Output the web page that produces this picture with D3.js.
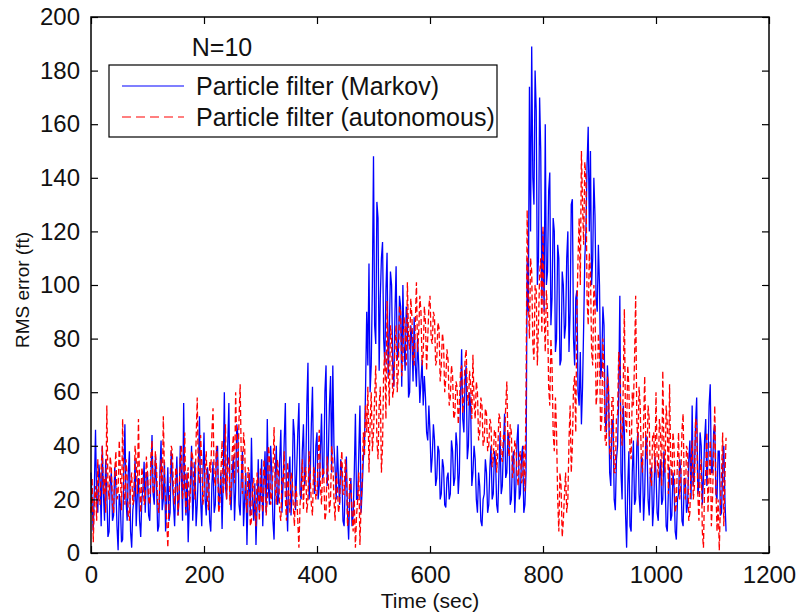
<!DOCTYPE html>
<html>
<head>
<meta charset="utf-8">
<script src="https://cdn.jsdelivr.net/npm/d3@7"></script>
<style>
  body { margin: 0; background: #fff; }
  svg text { font-family: "Liberation Sans", Arial, Helvetica, sans-serif; fill: #111; }
</style>
</head>
<body>
<div id="chart"></div>
<script>
// sample times (sec), one reading every 2 s
var times = d3.range(0, 1125, 2);

// RMS error (ft), particle filter with Markov model
var markov = [
  30,18, 8,25, 46,20, 15,33, 28,10, 40,22, 12,35, 22,6, 8,26, 30,12, 14,32, 25,10, 1,22, 18,4, 5,30, 48,20, 12,30, 38,8, 2,16, 20,35, 10,22, 28,12, 6,20, 24,34, 15,30,
  30,14, 12,28, 44,22, 18,36, 26,8, 10,30, 42,16, 20,34, 8,20, 32,12, 15,38, 28,18, 10,25, 36,14, 20,40, 30,12, 56,24, 14,30, 4,18, 26,40, 12,22, 34,10, 18,30, 51,20, 10,28,
  45,20, 14,32, 28,12, 8,26, 34,15, 18,38, 40,16, 22,30, 9,28, 60,25, 20,40, 56,22, 16,30, 36,12, 24,48, 44,18, 14,28, 38,10, 20,30, 3,22, 30,14, 43,20, 12,26, 3,18, 35,15,
  22,35, 10,25, 38,15, 50,24, 18,40, 30,12, 5,28, 40,18, 20,35, 46,15, 26,42, 56,20, 8,30, 36,14, 24,50, 44,16, 30,45, 56,22, 20,38, 48,25, 30,55, 71,20, 28,48, 62,30, 22,40,
  45,20, 25,38, 52,28, 30,60, 70,25, 36,55, 66,30, 70,40, 32,20, 40,28, 18,35, 30,12, 10,26, 36,15, 5,22, 28,10, 14,30, 52,20, 20,38, 55,15, 24,35, 40,62, 90,70, 108,60, 70,100,
  148,85, 78,131, 125,68, 95,110, 116,80, 70,98, 112,65, 82,105, 100,70, 62,90, 107,72, 75,96, 92,62, 100,78, 68,92, 87,58, 60,85, 80,64, 88,70, 62,80, 70,56, 64,72, 55,66, 58,45, 42,55,
  45,30, 36,48, 42,25, 28,40, 38,20, 22,35, 32,18, 17,28, 30,20, 22,42, 38,25, 28,45, 40,22, 30,58, 76,50, 45,65, 70,35, 40,60, 55,25, 30,40, 35,20, 15,30, 25,12, 10,20, 22,35,
  30,15, 18,32, 40,20, 22,38, 35,18, 15,30, 45,22, 25,40, 52,28, 30,45, 42,18, 20,35, 38,15, 25,42, 48,20, 22,36, 40,15, 18,30, 110,90, 174,120, 189,140, 130,180, 165,100, 110,170, 150,95,
  120,90, 160,100, 105,135, 142,85, 95,125, 120,75, 80,115, 110,70, 72,105, 100,80, 85,110, 120,75, 90,130, 132,80, 70,95, 98,60, 55,75, 48,62, 85,110, 120,145, 159,120, 150,100, 110,140, 126,95, 90,115,
  100,65, 70,92, 85,50, 45,70, 60,30, 25,48, 50,20, 16,35, 40,60, 96,30, 20,55, 45,15, 2,25, 38,10, 8,30, 42,18, 20,40, 45,22, 15,36, 35,12, 22,44, 40,20, 14,30, 32,10, 18,36,
  30,15, 12,28, 35,18, 20,38, 28,10, 8,24, 32,12, 14,30, 25,8, 5,20, 22,35, 30,12, 10,28, 26,15, 18,35, 42,20, 55,25, 30,48, 58,22, 25,45, 40,18, 28,42, 50,25, 35,55, 63,30,
  30,45, 48,22, 20,38, 38,14, 15,32, 40,20, 8
];

// RMS error (ft), particle filter with autonomous model
var autonomous = [
  15,28, 4,20, 25,12, 35,20, 18,32, 40,22, 28,15, 55,25, 20,36, 32,18, 15,30, 38,20, 22,42, 30,16, 50,26, 18,35, 28,14, 12,26, 30,18, 20,40, 35,22, 50,25, 15,32, 28,18, 20,36,
  30,20, 18,36, 42,22, 24,38, 32,18, 15,28, 35,20, 51,30, 20,12, 2,18, 26,40, 38,22, 18,32, 30,14, 22,36, 40,20, 25,45, 15,28, 32,16, 22,38, 36,24, 20,42, 58,30, 26,44, 34,18,
  22,32, 38,20, 16,34, 30,45, 54,28, 25,40, 35,15, 18,30, 42,22, 28,48, 20,32, 36,18, 24,38, 44,26, 60,40, 30,50, 63,35, 22,45, 40,20, 15,32, 30,10, 12,25, 28,15, 10,30, 25,12,
  32,20, 15,35, 28,14, 20,40, 36,18, 22,30, 47,25, 18,35, 30,15, 12,28, 26,38, 20,12, 34,22, 15,30, 28,18, 10,25, 22,12, 2,18, 25,35, 16,30, 32,15, 20,38, 28,18, 14,32, 30,20,
  22,35, 46,25, 18,32, 30,12, 15,36, 28,15, 20,40, 35,20, 12,30, 25,15, 18,32, 38,22, 22,35, 30,10, 14,28, 26,15, 8,20, 2,14, 20,30, 3,18, 28,45, 36,55, 45,62, 30,48, 60,38,
  45,58, 70,42, 35,55, 62,30, 40,68, 75,50, 94,70, 55,85, 80,58, 62,78, 85,60, 68,92, 90,66, 72,88, 84,70, 101,80, 76,95, 88,72, 70,86, 101,75, 82,96, 90,70, 74,92, 86,68, 80,92,
  96,80, 78,90, 88,70, 72,86, 84,64, 70,82, 78,60, 65,76, 72,55, 58,70, 66,50, 52,64, 62,48, 55,68, 70,52, 58,72, 76,60, 55,68, 62,50, 74,56, 50,64, 60,42, 45,58, 55,40, 42,54,
  52,38, 40,50, 48,32, 35,46, 45,30, 38,52, 50,36, 34,44, 42,55, 64,40, 36,48, 45,28, 30,42, 40,30, 25,36, 38,26, 28,40, 23,60, 128,95, 80,110, 105,78, 72,100, 98,70, 85,104, 110,82,
  122,90, 75,98, 90,62, 55,80, 70,45, 38,58, 45,20, 8,30, 25,6, 12,22, 30,15, 20,42, 55,30, 40,62, 66,45, 90,110, 125,100, 150,130, 115,146, 140,95, 85,112, 105,75, 70,100, 95,55, 60,82,
  75,45, 50,80, 68,42, 40,66, 62,38, 35,58, 58,30, 30,50, 52,75, 70,45, 40,62, 91,50, 45,70, 62,38, 35,60, 55,72, 96,50, 40,62, 55,35, 30,48, 66,40, 35,55, 50,28, 25,44, 45,30,
  60,35, 28,50, 45,25, 68,40, 30,55, 48,22, 63,35, 25,45, 40,15, 18,35, 45,20, 28,46, 52,25, 20,40, 38,12, 15,34, 42,20, 25,50, 48,22, 12,30, 35,8, 2,25, 30,45, 15,28, 42,10,
  20,38, 55,25, 8,20, 1,18, 30,45, 10,28, 43
];

var seriesNames = ["Particle filter (Markov)", "Particle filter (autonomous)"];
var xTicks = [0, 200, 400, 600, 800, 1000, 1200];
var yTicks = [0, 20, 40, 60, 80, 100, 120, 140, 160, 180, 200];

var width = 800,
    height = 613,
    plotL = 91, plotR = 769, plotT = 17, plotB = 553;

var x = d3.scaleLinear().domain([0, 1200]).range([plotL, plotR]);
var y = d3.scaleLinear().domain([0, 200]).range([plotB, plotT]);

var svg = d3.select("#chart")
    .append("svg")
    .attr("width", width)
    .attr("height", height);

var line = d3.line()
    .x(function(d) { return x(d[0]); })
    .y(function(d) { return y(d[1]); });

svg.append("path")
    .datum(d3.zip(times, markov))
    .attr("d", line)
    .attr("fill", "none")
    .attr("stroke", "#0000ff")
    .attr("stroke-width", 1.3);

svg.append("path")
    .datum(d3.zip(times, autonomous))
    .attr("d", line)
    .attr("fill", "none")
    .attr("stroke", "#ff0000")
    .attr("stroke-width", 1.3)
    .attr("stroke-dasharray", "6,3");

// axes, ticks pointing inwards like MATLAB
var xAxis = svg.append("g")
    .attr("transform", "translate(0," + plotB + ")")
    .call(d3.axisBottom(x).tickValues(xTicks).tickSize(-7).tickPadding(13).tickFormat(d3.format("d")));
var yAxis = svg.append("g")
    .attr("transform", "translate(" + plotL + ",0)")
    .call(d3.axisLeft(y).tickValues(yTicks).tickSize(-7).tickPadding(11).tickFormat(d3.format("d")));
svg.append("g")
    .attr("transform", "translate(0," + plotT + ")")
    .call(d3.axisTop(x).tickValues(xTicks).tickSize(-7).tickFormat(""));
svg.append("g")
    .attr("transform", "translate(" + plotR + ",0)")
    .call(d3.axisRight(y).tickValues(yTicks).tickSize(-7).tickFormat(""));

svg.selectAll(".domain").remove();
svg.selectAll(".tick line").attr("stroke", "#000").attr("stroke-width", 1.2);
svg.selectAll(".tick text").style("font-size", "24px").attr("fill", "#111");
xAxis.selectAll(".tick text").attr("dy", "0.71em");

svg.append("rect")
    .attr("x", plotL).attr("y", plotT)
    .attr("width", plotR - plotL).attr("height", plotB - plotT)
    .attr("fill", "none").attr("stroke", "#000").attr("stroke-width", 1.5);

svg.append("text")
    .attr("x", 430).attr("y", 608)
    .attr("text-anchor", "middle")
    .style("font-size", "21px")
    .text("Time (sec)");

svg.append("text")
    .attr("transform", "translate(29,290) rotate(-90)")
    .attr("text-anchor", "middle")
    .style("font-size", "19px")
    .text("RMS error (ft)");

svg.append("text")
    .attr("x", 222).attr("y", 56)
    .attr("text-anchor", "middle")
    .style("font-size", "25px")
    .text("N=10");

// legend
var legend = svg.append("g");
legend.append("rect")
    .attr("x", 109).attr("y", 65)
    .attr("width", 388).attr("height", 72)
    .attr("fill", "#fff").attr("stroke", "#000").attr("stroke-width", 1.2);

var rows = legend.selectAll(".row")
    .data(seriesNames)
    .enter().append("g")
    .attr("transform", function(d, i) { return "translate(0," + (86 + i * 31) + ")"; });

rows.append("line")
    .attr("x1", 122).attr("x2", 184)
    .attr("stroke", function(d, i) { return i === 0 ? "#0000ff" : "#ff0000"; })
    .attr("stroke-width", 1.2)
    .attr("stroke-dasharray", function(d, i) { return i === 0 ? null : "9,5"; });

rows.append("text")
    .attr("x", 196).attr("y", 9)
    .style("font-size", "25px")
    .text(function(d) { return d; });
</script>
</body>
</html>
